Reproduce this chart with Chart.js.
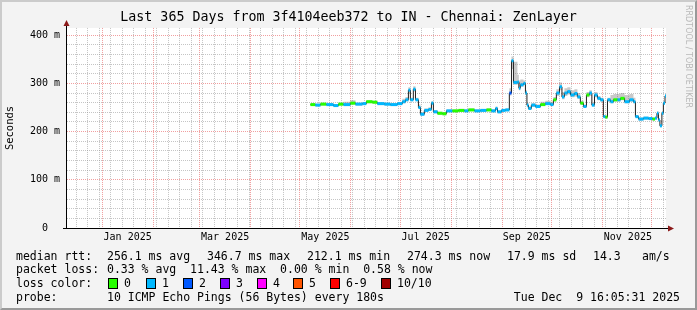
<!DOCTYPE html>
<html>
<head>
<meta charset="utf-8">
<script src="https://cdn.jsdelivr.net/npm/chart.js@4.4.1/dist/chart.umd.min.js"></script>
<style>
  html, body { margin: 0; padding: 0; background: #f3f3f3; }
  #wrap { position: relative; width: 697px; height: 310px; overflow: hidden; font-family: 'DejaVu Sans Mono', monospace; }
  #wrap canvas { position: absolute; left: 0; top: 0; }
  #frame { position: absolute; left: 0; top: 0; width: 693px; height: 306px;
           border-style: solid; border-width: 2px; border-color: #cbcbcb #999 #999 #cbcbcb; pointer-events: none; }
  .t { position: absolute; font-size: 11.5px; line-height: 14px; white-space: pre; color: #000; }
  .sw { position: absolute; width: 8px; height: 9px; border: 1px solid #000; }
  #brand { position: absolute; left: 684px; top: 5px; writing-mode: vertical-rl; font-family: 'DejaVu Sans', sans-serif;
           font-size: 8px; color: #b8b8b8; white-space: pre; }
</style>
</head>
<body>
<div id="wrap">
  <canvas id="chart" width="697" height="310"></canvas>
  <div id="brand">RRDTOOL / TOBI OETIKER</div>

  <div class="t" style="left:16px;top:249px">median rtt:</div>
  <div class="t" style="left:107px;top:249px">256.1 ms avg</div>
  <div class="t" style="left:207px;top:249px">346.7 ms max</div>
  <div class="t" style="left:307px;top:249px">212.1 ms min</div>
  <div class="t" style="left:407px;top:249px">274.3 ms now</div>
  <div class="t" style="left:507px;top:249px">17.9 ms sd</div>
  <div class="t" style="left:593px;top:249px">14.3</div>
  <div class="t" style="left:642px;top:249px">am/s</div>

  <div class="t" style="left:16px;top:262px">packet loss:</div>
  <div class="t" style="left:107px;top:262px">0.33 % avg  11.43 % max  0.00 % min  0.58 % now</div>

  <div class="t" style="left:16px;top:276px">loss color:</div>
  <div id="lossRow"></div>

  <div class="t" style="left:16px;top:290px">probe:</div>
  <div class="t" style="left:107px;top:290px">10 ICMP Echo Pings (56 Bytes) every 180s</div>
  <div class="t" style="right:17px;top:290px">Tue Dec  9 16:05:31 2025</div>
  <div id="frame"></div>
</div>
<script>
// x = days since start of the window (Mon Dec 9 2024 16:05), y = median rtt in ms
const sampleDays = [148.7, 151.7, 154.8, 158.4, 162.7, 165.7, 168.8, 173.0, 176.1, 180.3,
  182.7, 186.4, 189.4, 193.7, 197.3, 201.6, 204.6, 206.5, 208.3, 209.5,
  211.3, 212.6, 214.4, 215.6, 218.0, 220.5, 222.3, 223.5, 226.0, 229.0,
  231.4, 235.1, 238.7, 242.4, 244.8, 248.5, 252.1, 255.8, 258.8, 261.3,
  262.5, 264.9, 267.3, 269.7, 271.0, 272.2, 274.6, 275.5, 276.4, 278.3,
  279.5, 280.4, 281.3, 283.1, 285.6, 288.6, 291.6, 294.7, 296.5, 298.3,
  300.2, 301.7, 303.2, 305.0, 306.9, 309.3, 311.1, 312.9, 314.8, 316.6,
  318.4, 319.9, 321.5, 323.3, 325.1, 326.9, 328.2, 329.4, 331.2, 333.0,
  335.5, 337.3, 339.8, 342.8, 345.2, 346.4, 348.3, 351.3, 354.4, 356.8,
  358.3, 359.5, 360.4, 361.3, 362.5, 363.4, 364.4]
const endDay = 365

const medianMs = [256, 255, 257, 256, 254, 257, 256, 259, 257, 258,
  262, 261, 258, 257, 256, 258, 262, 266, 286, 266,
  288, 266, 250, 236, 244, 246, 259, 241, 238, 237,
  243, 243, 244, 243, 245, 243, 244, 245, 243, 248,
  241, 244, 245, 280, 347, 302, 303, 290, 297, 300,
  280, 255, 248, 255, 252, 256, 258, 256, 266, 280,
  293, 272, 280, 283, 276, 279, 272, 259, 252, 276,
  280, 255, 276, 269, 266, 231, 230, 266, 262, 266,
  266, 269, 262, 266, 262, 231, 226, 228, 227, 226,
  228, 238, 224, 212, 238, 259, 274]

// smoke: spread of the pings around the median
const smokeHiMs = [259, 258, 260, 259, 257, 260, 262, 265, 260, 261,
  265, 264, 261, 260, 259, 261, 268, 272, 292, 270,
  294, 270, 256, 240, 248, 250, 263, 245, 241, 240,
  246, 246, 247, 246, 248, 246, 247, 248, 246, 252,
  244, 247, 248, 290, 356, 345, 318, 306, 308, 306,
  286, 260, 252, 259, 256, 262, 264, 262, 272, 288,
  302, 282, 290, 292, 286, 288, 280, 264, 256, 282,
  286, 260, 282, 274, 270, 234, 233, 270, 276, 278,
  278, 280, 276, 278, 270, 234, 229, 231, 230, 229,
  231, 242, 228, 215, 242, 263, 278]
const smokeLoMs = [253, 252, 254, 253, 251, 254, 253, 256, 254, 255,
  259, 258, 255, 254, 253, 255, 259, 263, 280, 263,
  283, 263, 247, 233, 241, 243, 255, 238, 235, 234,
  240, 240, 241, 240, 242, 240, 241, 242, 240, 245,
  238, 241, 242, 275, 330, 297, 298, 286, 293, 296,
  276, 252, 245, 251, 249, 253, 255, 253, 262, 274,
  286, 267, 274, 277, 271, 273, 268, 256, 249, 271,
  274, 252, 271, 265, 262, 228, 227, 262, 259, 262,
  262, 265, 259, 262, 259, 228, 223, 225, 224, 223,
  225, 235, 221, 209, 234, 255, 270]

// lost pings (out of 10) for each sample, index into lossColors
const lossLevel = [0, 1, 0, 1, 1, 0, 1, 0, 1, 1,
  0, 0, 1, 1, 1, 1, 1, 1, 1, 1,
  1, 1, 1, 1, 1, 1, 1, 1, 0, 0,
  1, 0, 0, 1, 0, 1, 1, 0, 1, 1,
  1, 1, 1, 2, 1, 1, 1, 1, 1, 1,
  1, 1, 1, 1, 1, 0, 1, 1, 0, 1,
  1, 1, 1, 1, 1, 1, 1, 0, 1, 0,
  1, 1, 1, 1, 1, 1, 0, 1, 1, 0,
  1, 0, 1, 1, 1, 1, 1, 1, 1, 0,
  1, 1, 1, 1, 1, 1, 1]

const lossLabels = ['0', '1', '2', '3', '4', '5', '6-9', '10/10']
const lossColors = ['#26ff00', '#00b8ff', '#0059ff', '#7e00ff', '#ff00ff', '#ff5500', '#ff0000', '#a10000']
const lossSwatchX = [108, 146, 183, 220, 257, 293, 330, 381]

const monthStartDays = [22.33, 53.33, 81.33, 112.33, 142.33, 173.33, 203.33, 234.33, 265.33, 295.33, 326.33, 356.33]
const monthLabelDays = [37.5, 96.8, 157.8, 218.8, 280.3, 341.8]
const monthLabels = ['Jan 2025', 'Mar 2025', 'May 2025', 'Jul 2025', 'Sep 2025', 'Nov 2025']
const yTicks = [0, 20, 40, 60, 80, 100, 120, 140, 160, 180, 200, 220, 240, 260, 280, 300, 320, 340, 360, 380, 400]

// weekly minor grid, Mondays 00:00
const mondayDays = []
for (let d = 6.33; d < endDay; d += 7) mondayDays.push(+d.toFixed(2))

const xTickDays = [...new Set([...mondayDays, ...monthStartDays, ...monthLabelDays])].sort((a, b) => a - b)

const MONO = 'DejaVu Sans Mono'
const minorGrid = 'rgba(150,150,150,0.55)'
const majorGrid = 'rgba(230,80,80,0.55)'

// legend swatches
const lossRow = document.getElementById('lossRow')
lossLabels.forEach((lab, i) => {
  const sw = document.createElement('div')
  sw.className = 'sw'
  sw.style.left = lossSwatchX[i] + 'px'
  sw.style.top = '278px'
  sw.style.background = lossColors[i]
  lossRow.appendChild(sw)
  const t = document.createElement('div')
  t.className = 't'
  t.style.left = (lossSwatchX[i] + 16) + 'px'
  t.style.top = '276px'
  t.textContent = lab
  lossRow.appendChild(t)
})

const stepPoints = vals => sampleDays.map((d, i) => ({ x: d, y: vals[i] }))
  .concat([{ x: endDay, y: vals[vals.length - 1] }])

// colored median: one flat piece per sample, broken between samples
const bandPoints = []
sampleDays.forEach((d, i) => {
  const next = i + 1 < sampleDays.length ? sampleDays[i + 1] : endDay
  bandPoints.push({ x: d, y: medianMs[i] }, { x: next, y: medianMs[i] }, { x: next, y: null })
})

const canvasBg = {
  id: 'canvasBg',
  beforeDraw(chart) {
    const { ctx, chartArea: a } = chart
    ctx.save()
    ctx.fillStyle = '#ffffff'
    ctx.fillRect(a.left, a.top, a.right - a.left, a.bottom - a.top)
    ctx.restore()
  },
  afterDraw(chart) {
    const { ctx, chartArea: a } = chart
    ctx.save()
    ctx.strokeStyle = '#000'
    ctx.lineWidth = 1
    ctx.beginPath()
    ctx.moveTo(Math.round(a.left) + 0.5, a.top)
    ctx.lineTo(Math.round(a.left) + 0.5, a.top - 3)
    ctx.moveTo(a.left - 3, Math.round(a.bottom) + 0.5)
    ctx.lineTo(a.left, Math.round(a.bottom) + 0.5)
    ctx.moveTo(a.right, Math.round(a.bottom) + 0.5)
    ctx.lineTo(a.right + 3, Math.round(a.bottom) + 0.5)
    ctx.stroke()
    ctx.fillStyle = '#8b1a1a'
    const lx = Math.round(a.left) + 0.5
    ctx.beginPath()
    ctx.moveTo(lx - 3, a.top - 2)
    ctx.lineTo(lx + 3, a.top - 2)
    ctx.lineTo(lx, a.top - 8)
    ctx.closePath()
    ctx.fill()
    const by = Math.round(a.bottom) + 0.5
    ctx.beginPath()
    ctx.moveTo(a.right + 2, by - 3)
    ctx.lineTo(a.right + 2, by + 3)
    ctx.lineTo(a.right + 8, by)
    ctx.closePath()
    ctx.fill()
    ctx.restore()
  }
}

new Chart(document.getElementById('chart'), {
  type: 'line',
  data: {
    datasets: [
      {
        label: 'median loss color',
        data: bandPoints,
        borderWidth: 3,
        borderCapStyle: 'butt',
        spanGaps: false,
        pointRadius: 0,
        order: 0,
        segment: { borderColor: ctx => lossColors[lossLevel[Math.floor(ctx.p0DataIndex / 3)]] }
      },
      {
        label: 'median',
        data: stepPoints(medianMs),
        stepped: true,
        borderColor: '#202020',
        borderWidth: 1,
        pointRadius: 0,
        order: 1
      },
      {
        label: 'smoke high',
        data: stepPoints(smokeHiMs),
        stepped: true,
        borderWidth: 0,
        borderColor: 'rgba(0,0,0,0)',
        backgroundColor: 'rgba(120,120,120,0.4)',
        fill: '+1',
        pointRadius: 0,
        order: 2
      },
      {
        label: 'smoke low',
        data: stepPoints(smokeLoMs),
        stepped: true,
        borderWidth: 0,
        borderColor: 'rgba(0,0,0,0)',
        pointRadius: 0,
        order: 3
      }
    ]
  },
  options: {
    responsive: false,
    animation: false,
    layout: { padding: { left: 0, right: 0, top: 0, bottom: 66 } },
    plugins: {
      legend: { display: false },
      tooltip: { enabled: false },
      title: {
        display: true,
        text: 'Last 365 Days from 3f4104eeb372 to IN - Chennai: ZenLayer',
        color: '#000',
        font: { family: MONO, size: 13.3, weight: 'normal' },
        padding: { top: 10, bottom: 2 }
      }
    },
    scales: {
      x: {
        type: 'linear',
        min: 0,
        max: endDay,
        afterBuildTicks: s => { s.ticks = xTickDays.map(v => ({ value: v })) },
        afterFit: s => { s.height = 16 },
        grid: {
          drawTicks: false,
          color: ctx => {
            const v = ctx.tick && ctx.tick.value
            if (monthStartDays.includes(v)) return majorGrid
            if (monthLabelDays.includes(v)) return 'rgba(0,0,0,0)'
            return minorGrid
          }
        },
        border: { color: '#000', width: 1, dash: [1, 1] },
        ticks: {
          autoSkip: false,
          maxRotation: 0,
          minRotation: 0,
          padding: 3,
          color: '#000',
          font: { family: MONO, size: 10 },
          callback: v => {
            const k = monthLabelDays.indexOf(v)
            return k < 0 ? '' : monthLabels[k]
          }
        }
      },
      y: {
        type: 'linear',
        position: 'left',
        min: 0,
        max: 415,
        afterBuildTicks: s => { s.ticks = yTicks.map(v => ({ value: v })) },
        afterFit: s => { s.width = 66 },
        grid: {
          drawTicks: false,
          color: ctx => (ctx.tick && ctx.tick.value % 100 === 0) ? majorGrid : minorGrid
        },
        border: { color: '#000', width: 1, dash: [1, 1] },
        ticks: {
          autoSkip: false,
          padding: 6,
          color: '#000',
          font: { family: MONO, size: 10 },
          callback: v => v === 0 ? '0  ' : (v % 100 === 0 ? v + ' m' : '')
        },
        title: {
          display: true,
          text: 'Seconds',
          color: '#000',
          font: { family: MONO, size: 10.5 },
          padding: { top: 4, bottom: 0 }
        }
      },
      yRight: {
        type: 'linear',
        position: 'right',
        display: true,
        afterFit: s => { s.width = 31 },
        grid: { display: false },
        border: { display: false },
        ticks: { display: false }
      }
    }
  },
  plugins: [canvasBg]
})
</script>
</body>
</html>
